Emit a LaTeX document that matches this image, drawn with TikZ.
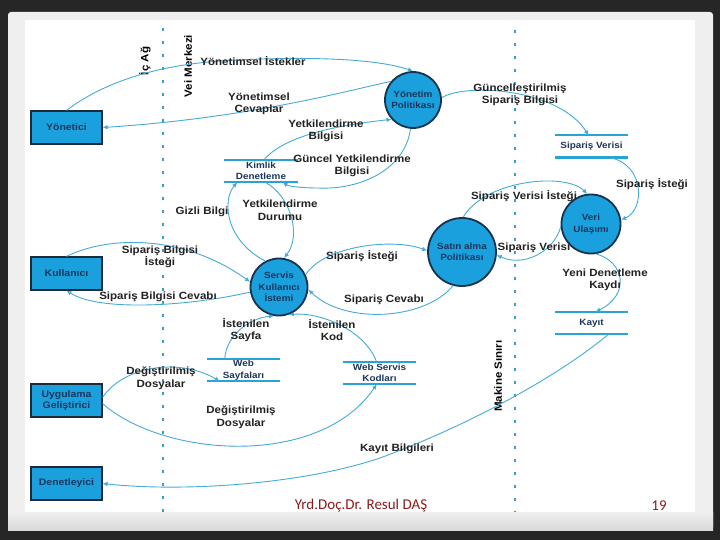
\documentclass[tikz,border=0pt]{standalone}
\usepackage{fontspec}
\newfontfamily\dfont{Liberation Sans}[FakeStretch=1.1]
\newfontfamily\ffont{Carlito}
\usetikzlibrary{arrows.meta,calc}
\definecolor{entfill}{HTML}{1AA0DC}
\definecolor{entdraw}{HTML}{1C2B3A}
\definecolor{procdraw}{HTML}{17324D}
\definecolor{nodetext}{HTML}{1B365D}
\definecolor{labtext}{HTML}{222222}
\definecolor{flowc}{HTML}{45ABD6}
\definecolor{storec}{HTML}{29A3D6}
\definecolor{dotc}{HTML}{3A9EC4}
\definecolor{footc}{HTML}{8B1C1C}
\definecolor{framec}{HTML}{262626}
\definecolor{marginc}{HTML}{EFEFEF}
\begin{document}
\begin{tikzpicture}[x=1pt,y=-1pt,
  ent/.style={draw=entdraw, line width=1.2pt, fill=entfill, minimum width=71pt, minimum height=33pt, inner sep=0pt, align=center, text=nodetext, font=\dfont\bfseries\fontsize{9.5}{11.5}\selectfont},
  proc/.style={circle, draw=procdraw, line width=1.8pt, fill=entfill, inner sep=0pt, align=center, text=nodetext, font=\dfont\bfseries\fontsize{9}{11.5}\selectfont},
  store/.style={minimum width=73pt, minimum height=22pt, inner sep=0pt, align=center, text=nodetext, font=\dfont\bfseries\fontsize{9}{11.5}\selectfont},
  sline/.style={draw=storec, line width=2.4pt},
  flow/.style={draw=flowc, line width=0.9pt, -{Latex[length=5pt,width=4.5pt]}},
  lab/.style={inner sep=0pt, align=center, text=labtext, font=\dfont\bfseries\fontsize{10.5}{12.5}\selectfont},
  vlab/.style={lab, rotate=90, text=black},
  dotline/.style={draw=dotc, line width=2.6pt, dash pattern=on 3pt off 10pt},
  foot/.style={inner sep=0pt, text=footc, font=\ffont\fontsize{15}{18}\selectfont}
]
\useasboundingbox (0,0) rectangle (720,540);
% slide background
\fill[framec] (0,0) rectangle (720,540);
\fill[marginc, rounded corners=3pt] (8,12) rectangle (713,530);
\shade[top color=marginc, bottom color=gray!30] (8,512) rectangle (713,530);
\fill[white] (25,20) rectangle (695,512);

% boundaries
\coordinate (a1) at (163,28);
\coordinate (a2) at (163,512);
\coordinate (b1) at (515,30);
\coordinate (b2) at (515,512);
\draw[dotline] (a1) -- (a2);
\draw[dotline] (b1) -- (b2);
\node[vlab] (icag) at (145,61) {İç Ağ};
\node[vlab] (veim) at (188,66) {Vei Merkezi};
\node[vlab] (makine) at (498,376) {Makine Sınırı};

% external entities
\node[ent] (yon) at (66.5,127.5) {Yönetici};
\node[ent] (kul) at (66.5,273.5) {Kullanıcı};
\node[ent] (ug) at (66.5,400.5) {Uygulama\\Geliştirici};
\node[ent] (den) at (66.5,483.5) {Denetleyici};

% processes
\node[proc, minimum size=56pt] (yp) at (413,100) {Yönetim\\Politikası};
\node[proc, minimum size=57pt] (srv) at (279,287) {Servis\\Kullanıcı\\İstemi};
\node[proc, minimum size=68pt] (sat) at (462,252) {Satın alma\\Politikası};
\node[proc, minimum size=59pt] (veri) at (591,224) {Veri\\Ulaşımı};

% data stores
\node[store] (kd) at (261,171) {Kimlik\\Denetleme};
\node[store] (sv) at (591.5,146.5) {Sipariş Verisi};
\node[store] (kay) at (591.5,323) {Kayıt};
\node[store] (ws) at (243.5,370) {Web\\Sayfaları};
\node[store] (wsk) at (379.5,373) {Web Servis\\Kodları};
\foreach \s in {kd,sv,kay,ws,wsk}{
  \draw[sline] (\s.north west) -- (\s.north east);
  \draw[sline] (\s.south west) -- (\s.south east);
}

% flows
\draw[flow] (yon.north) .. controls (100,85) and (150,66) .. (220,61) .. controls (300,56) and (375,58) .. (yp.north);
\draw[flow] (yp.140) .. controls (350,90) and (250,118) .. (yon.east);
\draw[flow] (kd.75) .. controls (285,135) and (340,125) .. (yp.222);
\draw[flow] (yp.265) .. controls (405,170) and (360,190) .. (318,188) .. controls (300,188) and (288,186) .. ($(kd.south east)+(-15,0)$);
\draw[flow] (srv.118) .. controls (225,240) and (222,200) .. ($(kd.south west)+(13,0)$);
\draw[flow] ($(kd.south)+(4,0)$) .. controls (290,195) and (302,235) .. (srv.80);
\draw[flow] (kul.north) .. controls (110,235) and (185,235) .. (srv.170);
\draw[flow] (srv.190) .. controls (190,306) and (100,312) .. (kul.south);
\draw[flow] (srv.25) .. controls (325,245) and (395,238) .. (sat.178);
\draw[flow] (sat.255) .. controls (425,320) and (345,325) .. (srv.355);
\draw[flow] (sat.88) .. controls (485,180) and (565,172) .. (veri.97);
\draw[flow] (veri.185) .. controls (555,250) and (525,268) .. (sat.355);
\draw[flow] (yp.5) .. controls (470,82) and (560,90) .. ($(sv.north)+(-3,0)$);
\draw[flow] ($(sv.south)+(19,0)$) .. controls (645,165) and (645,210) .. (veri.8);
\draw[flow] (veri.280) .. controls (625,262) and (630,295) .. ($(kay.north)+(4,0)$);
\draw[flow] ($(kay.south)+(17,0)$) .. controls (560,375) and (470,425) .. (380,458) .. controls (300,485) and (180,492) .. (den.east);
\draw[flow] (ug.5) .. controls (125,365) and (180,358) .. ($(ws.south west)+(13,0)$);
\draw[flow] (ug.355) .. controls (165,458) and (320,468) .. ($(wsk.south west)+(34,0)$);
\draw[flow] ($(ws.north west)+(18,0)$) .. controls (226,335) and (250,318) .. (srv.260);
\draw[flow] ($(wsk.north)+(-3,0)$) .. controls (365,330) and (320,312) .. (srv.290);

% flow labels
\node[lab] (l1) at (253,61) {Yönetimsel İstekler};
\node[lab] (l2) at (259,104) {Yönetimsel\\Cevaplar};
\node[lab] (l3) at (326,131) {Yetkilendirme\\Bilgisi};
\node[lab] (l4) at (352,166) {Güncel Yetkilendirme\\Bilgisi};
\node[lab] (l5) at (202,212) {Gizli Bilgi};
\node[lab] (l6) at (280,210) {Yetkilendirme\\Durumu};
\node[lab] (l7) at (160,257) {Sipariş Bilgisi\\İsteği};
\node[lab] (l8) at (158,297) {Sipariş Bilgisi Cevabı};
\node[lab] (l9) at (362,256) {Sipariş İsteği};
\node[lab] (l10) at (384,300) {Sipariş Cevabı};
\node[lab] (l11) at (524,196) {Sipariş Verisi İsteği};
\node[lab] (l12) at (534,248) {Sipariş Verisi};
\node[lab] (l13) at (520,95) {Güncelleştirilmiş\\Sipariş Bilgisi};
\node[lab] (l14) at (652,184) {Sipariş İsteği};
\node[lab] (l15) at (605,280) {Yeni Denetleme\\Kaydı};
\node[lab] (l16) at (397,449) {Kayıt Bilgileri};
\node[lab] (l17) at (161,378) {Değiştirilmiş\\Dosyalar};
\node[lab] (l18) at (241,417) {Değiştirilmiş\\Dosyalar};
\node[lab] (l19) at (246,330) {İstenilen\\Sayfa};
\node[lab] (l20) at (332,330) {İstenilen\\Kod};

% footer
\node[foot] (ft) at (361,506) {Yrd.Doç.Dr. Resul DAŞ};
\node[foot] (pg) at (659,506) {19};
\end{tikzpicture}
\end{document}
